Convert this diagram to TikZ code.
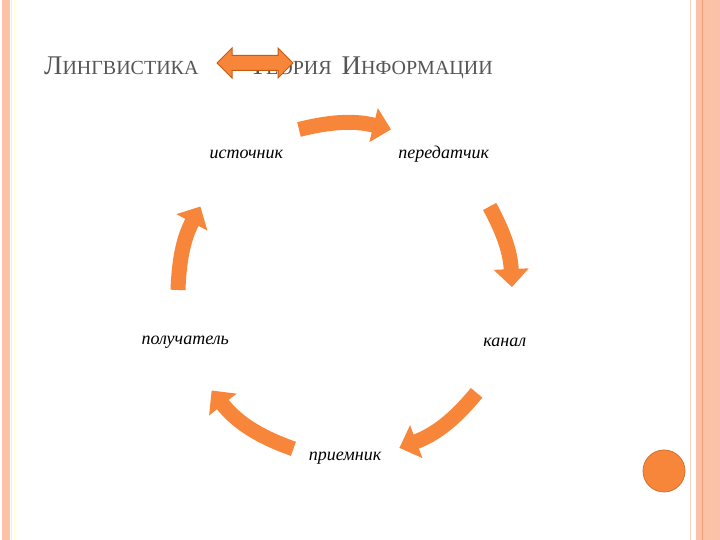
\documentclass[tikz,border=0pt]{standalone}
\usepackage{fontspec}
\setmainfont{Liberation Serif}
\usetikzlibrary{positioning, calc, arrows.meta, shapes.arrows}

\definecolor{slideorange}{RGB}{247,134,58}
\definecolor{slideedge}{RGB}{197,90,17}
\definecolor{peach}{RGB}{252,194,168}
\definecolor{peachdark}{RGB}{242,158,122}
\definecolor{titlegray}{RGB}{85,85,85}

% fake small caps: large first letter, smaller rest
\newcommand{\scword}[2]{{\fontsize{27}{27}\selectfont #1}{\fontsize{20}{20}\selectfont #2}}

\begin{document}
\begin{tikzpicture}[
    x=1pt, y=1pt,
    title/.style={text=titlegray, inner sep=0pt},
    lbl/.style={font=\itshape\fontsize{18}{18}\selectfont, inner sep=1pt},
    cyc/.style={line width=15pt, draw=slideorange, -{Triangle[length=18pt, width=34pt]}}
]
\useasboundingbox (0,0) rectangle (720,540);
% frame stripes
\fill[peach] (2,0) rectangle (10,540);
\draw[red!10, line width=1pt] (11.5,0) -- (11.5,540);
\draw[yellow!15, line width=1pt] (14.5,0) -- (14.5,540);
\draw[peach!70, line width=1.5pt] (690.5,0) -- (690.5,540);
\fill[peach] (696,0) rectangle (720,540);
\draw[peachdark, line width=1pt] (702,0) -- (702,540);
% title
\node[title, anchor=base west] (ling) at (44,465) {\scword{Л}{ИНГВИСТИКА}};
\node[title, anchor=base east] (teor) at (493,465) {\scword{Т}{ЕОРИЯ}\hspace{10pt}\scword{И}{НФОРМАЦИИ}};
\node[double arrow, fill=slideorange, draw=slideedge, line width=1pt, minimum height=76pt, inner xsep=0pt, inner ysep=7pt, double arrow head extend=7.5pt] (link) at (255,477) {};
% cycle
\coordinate (c) at (345,250);
\node[lbl] (src) at ($(c)+(126:168)$) {источник};
\node[lbl] (tx) at ($(c)+(54:168)$) {передатчик};
\node[lbl] (chan) at ($(c)+(-18:168)$) {канал};
\node[lbl] (rx) at ($(c)+(-90:168)$) {приемник};
\node[lbl] (dst) at ($(c)+(-162:168)$) {получатель};
\coordinate (a1) at ($(c)+(106:167)$);
\coordinate (b1) at ($(c)+(74:167)$);
\coordinate (a2) at ($(c)+(30:167)$);
\coordinate (b2) at ($(c)+(1:167)$);
\coordinate (a3) at ($(c)+(-38:167)$);
\coordinate (b3) at ($(c)+(-71:167)$);
\coordinate (a4) at ($(c)+(-108:167)$);
\coordinate (b4) at ($(c)+(-143:167)$);
\coordinate (a5) at ($(c)+(180:167)$);
\coordinate (b5) at ($(c)+(150:167)$);
\draw[cyc] (a1) to[bend left=14] (b1);
\draw[cyc] (a2) to[bend left=13] (b2);
\draw[cyc] (a3) to[bend left=15] (b3);
\draw[cyc] (a4) to[bend left=16] (b4);
\draw[cyc] (a5) to[bend left=13] (b5);
% corner dot
\node[circle, fill=slideorange, draw=slideorange!85!black, line width=0.8pt, minimum size=42pt, inner sep=0pt] (dot) at (664,69) {};
\end{tikzpicture}
\end{document}
